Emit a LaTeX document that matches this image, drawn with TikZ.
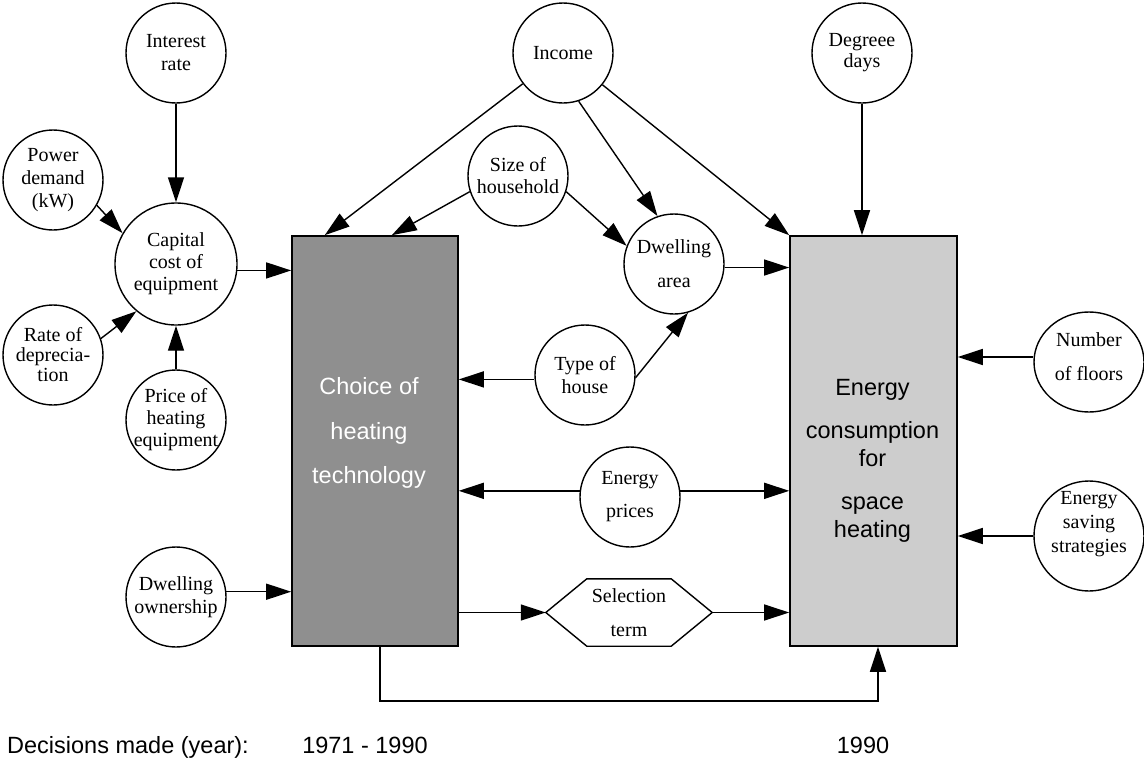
\documentclass[tikz,border=0pt]{standalone}
\usepackage{fontspec}
\setmainfont{Liberation Serif}
\newfontfamily\arialf{Liberation Sans}
\usetikzlibrary{arrows.meta,shapes.geometric,calc}
\definecolor{darkbox}{RGB}{143,143,143}
\definecolor{lightbox}{RGB}{205,205,205}
\begin{document}
\begin{tikzpicture}[x=1pt,y=-1pt,
  circ/.style={circle,draw,line width=1.4pt,minimum size=100pt,inner sep=0pt},
  ctext/.style={align=center,font=\fontsize{20}{23}\selectfont,inner sep=0pt},
  arr/.style={line width=1.4pt,-{Triangle[length=25pt,width=16pt]}},
  bigbox/.style={draw,line width=1.6pt,minimum width=166pt,minimum height=410pt,inner sep=0pt},
  boxtext/.style={align=center,inner sep=0pt},
  btext/.style={font=\arialf\fontsize{23.5}{28}\selectfont,inner sep=0pt}
]
\useasboundingbox (0,0) rectangle (1144,758);

% main boxes
\node[bigbox,fill=darkbox,
  label={[boxtext,xshift=-6pt,yshift=8pt,text=white,font=\arialf\fontsize{23.5}{44.5}\selectfont]center:Choice of\\heating\\technology}]
  (choice) at (375,441) {};
\node[bigbox,fill=lightbox,minimum width=167pt,
  label={[boxtext,xshift=-1pt,yshift=-20pt,font=\arialf\fontsize{23.5}{28}\selectfont]center:Energy\\[15pt]consumption\\for\\[15pt]space\\heating}]
  (light) at (873.5,441) {};

% circles
\node[circ,label={[ctext]center:Interest\\rate}] (int) at (176,53) {};
\node[circ,label={[ctext]center:Power\\demand\\(kW)}] (pow) at (53,180) {};
\node[circ,minimum size=122pt,label={[ctext,font=\fontsize{20}{22}\selectfont]center:Capital\\cost of\\equipment}] (cap) at (176,264) {};
\node[circ,label={[ctext,font=\fontsize{20}{20}\selectfont]center:Rate of\\deprecia-\\tion}] (dep) at (53,355) {};
\node[circ,label={[ctext,font=\fontsize{20}{22}\selectfont]center:Price of\\heating\\equipment}] (price) at (176,420) {};
\node[circ,label={[ctext]center:Dwelling\\ownership}] (own) at (176,597) {};
\node[circ,label={[ctext]center:Income}] (inc) at (563,53) {};
\node[circ,label={[ctext,font=\fontsize{20}{22}\selectfont]center:Size of\\household}] (soh) at (518,176) {};
\node[circ,label={[ctext]center:Dwelling\\[11pt]area}] (dwa) at (674,264) {};
\node[circ,label={[ctext]center:Type of\\house}] (toh) at (585,375) {};
\node[circ,label={[ctext]center:Energy\\[10pt]prices}] (ep) at (630,497) {};
\node[circ,label={[ctext,font=\fontsize{20}{21}\selectfont]center:Degreee\\days}] (dd) at (862,53) {};
\node[ellipse,draw,line width=1.4pt,minimum width=110pt,minimum height=100pt,inner sep=0pt,
  label={[ctext,yshift=5pt]center:Number\\[11pt]of floors}] (nof) at (1089,362) {};
\node[ellipse,draw,line width=1.4pt,minimum width=110pt,minimum height=110pt,inner sep=0pt,
  label={[ctext,yshift=12pt,font=\fontsize{20}{24}\selectfont]center:Energy\\saving\\strategies}] (ess) at (1089,536) {};

% selection term hexagon
\node[minimum width=166pt,minimum height=67pt,inner sep=0pt,
  label={[ctext]center:Selection\\[11pt]term}] (sel) at (629,612.5) {};
\draw[line width=1.4pt] (sel.west) -- ([xshift=41pt]sel.north west) -- ([xshift=-41pt]sel.north east)
  -- (sel.east) -- ([xshift=-41pt]sel.south east) -- ([xshift=41pt]sel.south west) -- cycle;

% connectors
\draw[arr] (int) -- (cap);
\draw[arr] (pow.-30) -- (cap.150);
\draw[arr] (dep.19) -- (cap.-130);
\draw[arr] (price) -- (cap);
\draw[arr] (cap.-6) -- (cap.-6 -| choice.west);
\draw[arr] (own.6) -- (own.6 -| choice.west);
\draw[arr] (inc) -- ($(choice.north west)!0.2!(choice.north east)$);
\draw[arr] (soh.-162) -- ($(choice.north west)!0.6!(choice.north east)$);
\draw[arr] (inc.-72) -- (dwa.109);
\draw[arr] (inc) -- (light.north west);
\draw[arr] (soh.-18) -- (dwa.159);
\draw[arr] (toh.-3) -- (dwa.-74);
\draw[arr] (toh.185) -- (toh.185 -| choice.east);
\draw[arr] (dwa.-4) -- (dwa.-4 -| light.west);
\draw[arr] (ep.173) -- (ep.173 -| choice.east);
\draw[arr] (ep.7) -- (ep.7 -| light.west);
\draw[arr] (sel.west -| choice.east) -- (sel.west);
\draw[arr] (sel.east) -- (sel.east -| light.west);
\draw[arr] (dd) -- (dd |- light.north);
\draw[arr] ([yshift=5pt]nof.west) -- ([yshift=5pt]nof.west -| light.east);
\draw[arr] (ess.west) -- (ess.west -| light.east);
\coordinate (bl) at (380,701);
\coordinate (br) at (878,701);
\draw[arr] (bl |- choice.south) -- (bl) -- (br) -- (br |- light.south);

% bottom texts
\node[btext,anchor=base west] (dec) at (7,753) {Decisions made (year):};
\node[btext,anchor=base] (y1) at (365,753) {1971 - 1990};
\node[btext,anchor=base] (y2) at (863,753) {1990};
\end{tikzpicture}
\end{document}
